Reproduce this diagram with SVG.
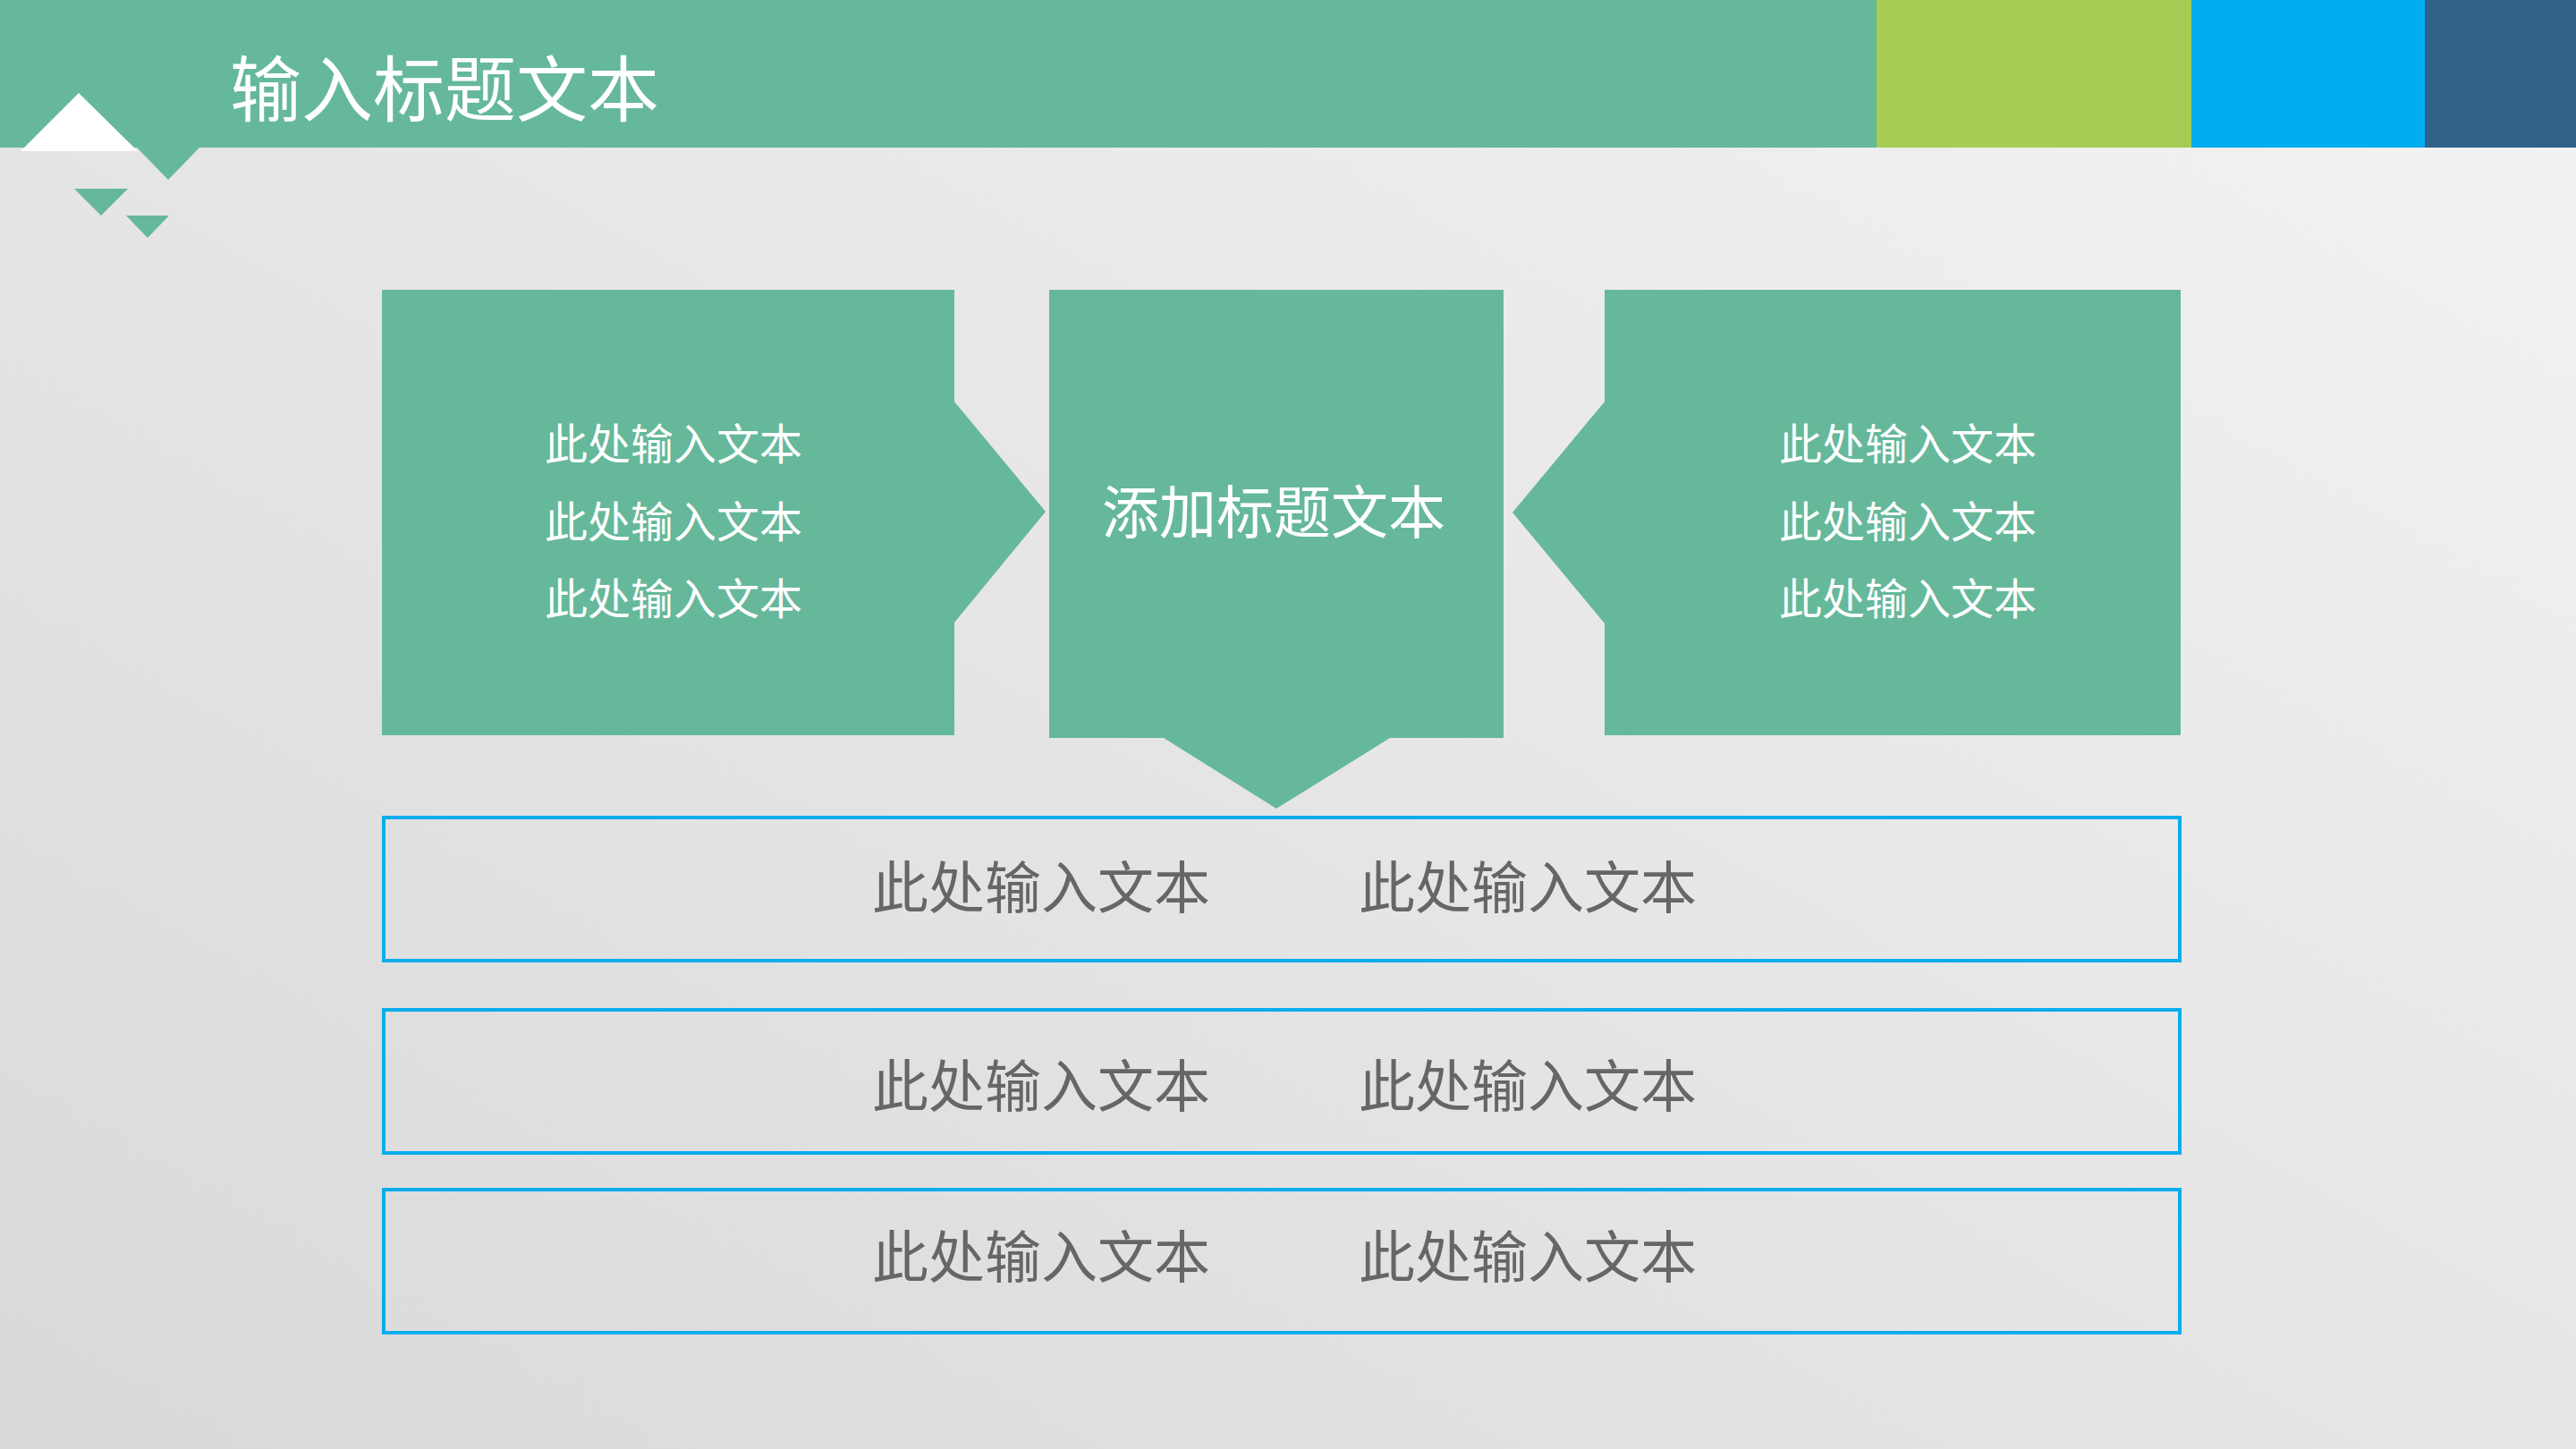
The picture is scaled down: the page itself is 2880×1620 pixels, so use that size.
<svg xmlns="http://www.w3.org/2000/svg" width="2880" height="1620" viewBox="0 0 2880 1620">
<style>
.g{fill:#66B89A}
.w{fill:#FFFFFF}
.t{font-family:"Noto Sans CJK SC","Noto Sans",sans-serif}
.wt{fill:#FFFFFF}
.gt{fill:#666666}
.bx{fill:none;stroke:#0AADEB;stroke-width:4}
</style>
<defs>
<linearGradient id="bg" x1="0" y1="1" x2="1" y2="0">
<stop offset="0" stop-color="#D9D9D9"/>
<stop offset="1" stop-color="#F3F3F3"/>
</linearGradient>
</defs>
<rect x="0" y="0" width="2880" height="1620" fill="url(#bg)"/>
<g id="header">
<rect class="g" x="0" y="0" width="2098" height="165"/>
<rect x="2098" y="0" width="352" height="165" fill="#A6CC54"/>
<rect x="2450" y="0" width="261" height="165" fill="#00ADEF"/>
<rect x="2711" y="0" width="169" height="165" fill="#2F6189"/>
<polygon class="w" points="23,169 88,104 154,169"/>
<polygon class="g" points="152,164 224,164 188,201"/>
<polygon class="g" points="83,211 143,211 113,241"/>
<polygon class="g" points="141,241 189,241 165,266"/>
<text class="t wt" x="257" y="129" font-size="80">输入标题文本</text>
</g>
<g id="left-box">
<polygon class="g" points="427,324 1067,324 1067,449 1169,572 1067,696 1067,822 427,822"/>
<text class="t wt" x="753" y="514" font-size="48" text-anchor="middle">此处输入文本</text>
<text class="t wt" x="753" y="601" font-size="48" text-anchor="middle">此处输入文本</text>
<text class="t wt" x="753" y="687" font-size="48" text-anchor="middle">此处输入文本</text>
</g>
<g id="center-box">
<polygon class="g" points="1173,324 1681,324 1681,825 1554,825 1427,904 1301,825 1173,825"/>
<text class="t wt" x="1424" y="596" font-size="64" text-anchor="middle">添加标题文本</text>
</g>
<g id="right-box">
<polygon class="g" points="1794,324 2438,324 2438,822 1794,822 1794,697 1691,573 1794,449"/>
<text class="t wt" x="2133" y="514" font-size="48" text-anchor="middle">此处输入文本</text>
<text class="t wt" x="2133" y="601" font-size="48" text-anchor="middle">此处输入文本</text>
<text class="t wt" x="2133" y="687" font-size="48" text-anchor="middle">此处输入文本</text>
</g>
<g id="row-1">
<rect class="bx" x="429" y="914" width="2008" height="160"/>
<text class="t gt" x="1164" y="1015" font-size="63" text-anchor="middle">此处输入文本</text>
<text class="t gt" x="1708" y="1015" font-size="63" text-anchor="middle">此处输入文本</text>
</g>
<g id="row-2">
<rect class="bx" x="429" y="1129" width="2008" height="160"/>
<text class="t gt" x="1164" y="1237" font-size="63" text-anchor="middle">此处输入文本</text>
<text class="t gt" x="1708" y="1237" font-size="63" text-anchor="middle">此处输入文本</text>
</g>
<g id="row-3">
<rect class="bx" x="429" y="1330" width="2008" height="160"/>
<text class="t gt" x="1164" y="1428" font-size="63" text-anchor="middle">此处输入文本</text>
<text class="t gt" x="1708" y="1428" font-size="63" text-anchor="middle">此处输入文本</text>
</g>
<g id="connectors"></g>
</svg>
